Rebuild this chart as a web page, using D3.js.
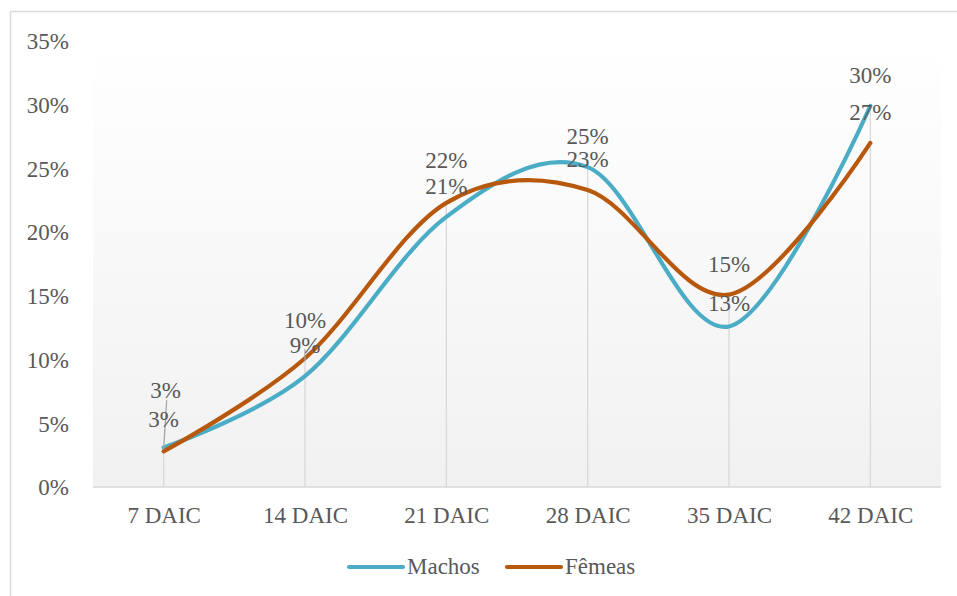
<!DOCTYPE html>
<html>
<head>
<meta charset="utf-8">
<script src="https://cdn.jsdelivr.net/npm/d3@7"></script>
<style>
  html, body { margin: 0; padding: 0; background: #ffffff; }
  svg { display: block; }
</style>
</head>
<body>
<svg id="chart" width="957" height="596" font-family="Liberation Serif"></svg>
<script>
// Categories (days after infestation) and the share per sex
const categories = ["7 DAIC", "14 DAIC", "21 DAIC", "28 DAIC", "35 DAIC", "42 DAIC"];
const machos = [0.031, 0.087, 0.212, 0.251, 0.126, 0.299];
const femeas = [0.028, 0.101, 0.223, 0.233, 0.151, 0.270];
const yTicks = [0, 0.05, 0.10, 0.15, 0.20, 0.25, 0.30, 0.35];

// Label placement (baseline offset from each point, px)
const labelDyMachos = [-20, -23, -23, -23, -15, -23];
const labelDyFemeas = [-53, -30, -35, -23, -23, -23];
const labelDxFemeas = [2, 0, 0, 0, 0, 0];

const colors = { Machos: "#4BACC6", "Fêmeas": "#B8580C" };
const fontSize = 23;
const fontFamily = "Liberation Serif";
const textColor = "#595959";

const svg = d3.select("#chart");
svg.append("style").text("text { font-family: 'Liberation Serif', serif !important; }");

const plot = { left: 93, right: 941, top: 41, bottom: 487 };

const x = d3.scalePoint().domain(categories).range([plot.left, plot.right]).padding(0.5);
const y = d3.scaleLinear().domain([0, 0.35]).range([plot.bottom, plot.top]);
const pct = d3.format(".0%");

function styleText(sel) {
  sel.attr("font-family", fontFamily)
    .attr("font-size", fontSize)
    .attr("fill", textColor);
}

// Outer chart frame
svg.append("rect")
  .attr("x", 10.5).attr("y", 11.5).attr("width", 980).attr("height", 620)
  .attr("fill", "#ffffff").attr("stroke", "#d9d9d9").attr("stroke-width", 1.5);

// Plot area background gradient
const defs = svg.append("defs");
const grad = defs.append("linearGradient").attr("id", "plotBg")
  .attr("x1", 0).attr("y1", 0).attr("x2", 0).attr("y2", 1);
grad.append("stop").attr("offset", "0%").attr("stop-color", "#ffffff");
grad.append("stop").attr("offset", "100%").attr("stop-color", "#f1f1f1");
svg.append("rect")
  .attr("x", plot.left).attr("y", plot.top)
  .attr("width", plot.right - plot.left).attr("height", plot.bottom - plot.top)
  .attr("fill", "url(#plotBg)");

// Drop lines from the highest point of each category to the axis
svg.append("g").selectAll("line")
  .data(categories)
  .join("line")
  .attr("x1", d => x(d)).attr("x2", d => x(d))
  .attr("y1", (d, i) => y(Math.max(machos[i], femeas[i])))
  .attr("y2", plot.bottom)
  .attr("stroke", "#d9d9d9").attr("stroke-width", 1.3);

// Y axis (labels only)
const yAxis = d3.axisLeft(y).tickValues(yTicks).tickFormat(pct).tickSize(0).tickPadding(0);
const gy = svg.append("g").attr("transform", "translate(69,0)").call(yAxis)
  .attr("font-family", fontFamily).attr("font-size", fontSize);
gy.select(".domain").remove();
gy.selectAll("text").call(styleText).attr("dy", "0.34em");

// X axis
const xAxis = d3.axisBottom(x).tickSize(0).tickPadding(0);
const gx = svg.append("g").attr("transform", `translate(0,${plot.bottom})`).call(xAxis)
  .attr("font-family", fontFamily).attr("font-size", fontSize);
gx.select(".domain").attr("stroke", "#d9d9d9").attr("stroke-width", 1.5)
  .attr("d", `M${plot.left},0H${plot.right}`);
gx.selectAll("text").call(styleText).attr("y", 36).attr("dy", 0);

// Smoothed series lines
const line = d3.line()
  .x((d, i) => x(categories[i]))
  .y(d => y(d))
  .curve(d3.curveCardinal.tension(0));

const series = [
  { name: "Machos", values: machos, dy: labelDyMachos, dx: categories.map(() => 0) },
  { name: "Fêmeas", values: femeas, dy: labelDyFemeas, dx: labelDxFemeas }
];

svg.append("g").selectAll("path")
  .data(series)
  .join("path")
  .attr("d", s => line(s.values))
  .attr("fill", "none")
  .attr("stroke", s => colors[s.name])
  .attr("stroke-width", 4.2)
  .attr("stroke-linecap", "round")
  .attr("stroke-linejoin", "round");

// Leader lines for labels moved away from their points
const leaders = svg.append("g").attr("stroke", "#a6a6a6").attr("stroke-width", 1.3);
leaders.append("line")
  .attr("x1", x(categories[0]) + 3).attr("y1", y(femeas[0]) + labelDyFemeas[0] + 2)
  .attr("x2", x(categories[0])).attr("y2", y(femeas[0]) - 2);
leaders.append("line")
  .attr("x1", x(categories[1])).attr("y1", y(machos[1]) + labelDyMachos[1] - 4)
  .attr("x2", x(categories[1])).attr("y2", y(machos[1]) + labelDyMachos[1] + 8);

// Data labels
series.forEach(s => {
  svg.append("g").selectAll("text")
    .data(s.values)
    .join("text")
    .attr("x", (d, i) => x(categories[i]) + s.dx[i])
    .attr("y", (d, i) => y(d) + s.dy[i])
    .attr("text-anchor", "middle")
    .call(styleText)
    .text(d => pct(d));
});

// Legend
const legendItems = [
  { name: "Machos", x1: 349, x2: 403 },
  { name: "Fêmeas", x1: 507, x2: 561 }
];
const lg = svg.append("g");
legendItems.forEach(it => {
  lg.append("line")
    .attr("x1", it.x1).attr("x2", it.x2).attr("y1", 567).attr("y2", 567)
    .attr("stroke", colors[it.name]).attr("stroke-width", 4.2).attr("stroke-linecap", "round");
  lg.append("text")
    .attr("x", it.x2 + 4).attr("y", 574)
    .call(styleText)
    .text(it.name);
});
</script>
</body>
</html>
